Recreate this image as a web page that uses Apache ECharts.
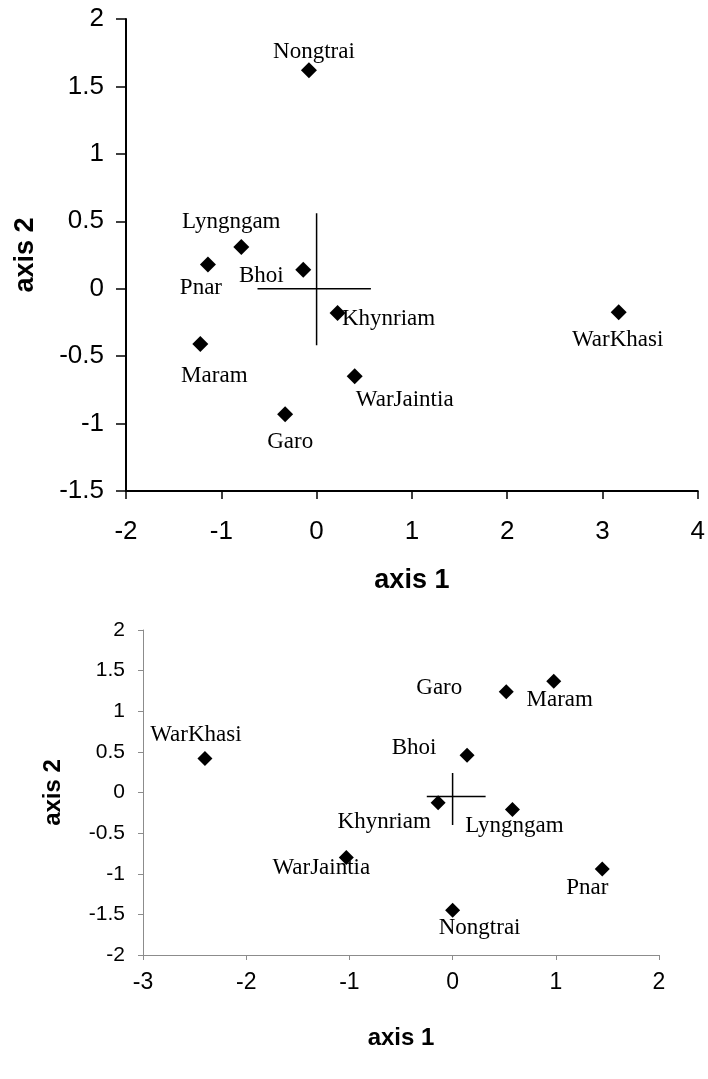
<!DOCTYPE html>
<html>
<head>
<meta charset="utf-8">
<script src="https://cdn.jsdelivr.net/npm/echarts@6/dist/echarts.min.js"></script>
<style>
  html, body { margin: 0; padding: 0; background: #fff; }
  #chart { width: 708px; height: 1079px; }
</style>
</head>
<body>
<div id="chart"></div>
<script>
// top panel
const topNames = ['Nongtrai', 'Lyngngam', 'Pnar', 'Bhoi', 'Khynriam', 'Maram', 'WarJaintia', 'Garo', 'WarKhasi']
const topX = [-0.08, -0.79, -1.14, -0.14, 0.22, -1.22, 0.40, -0.33, 3.17]
const topY = [1.62, 0.31, 0.18, 0.14, -0.18, -0.41, -0.65, -0.93, -0.175]
const topCrossX = [-0.62, 0.57]
const topCrossY = [-0.42, 0.56]

// bottom panel
const botNames = ['WarKhasi', 'WarJaintia', 'Khynriam', 'Garo', 'Maram', 'Bhoi', 'Lyngngam', 'Pnar', 'Nongtrai']
const botX = [-2.40, -1.03, -0.14, 0.52, 0.98, 0.14, 0.58, 1.45, 0.0]
const botY = [0.42, -0.80, -0.125, 1.24, 1.37, 0.46, -0.21, -0.94, -1.45]
const botCrossX = [-0.25, 0.32]
const botCrossLevel = -0.05
const botCrossY = [0.24, -0.40]

// label placement (pixels from marker centre)
const topLabelOffset = {
  Nongtrai: [5, -18], Lyngngam: [-10, -25], Pnar: [-7, 24], Bhoi: [-42, 6],
  Khynriam: [51, 6], Maram: [14, 32], WarJaintia: [50, 24], Garo: [5, 28], WarKhasi: [-1, 28]
}
const botLabelOffset = {
  WarKhasi: [-9, -23], WarJaintia: [-25, 10], Khynriam: [-54, 19], Garo: [-67, -4],
  Maram: [6, 19], Bhoi: [-53, -7], Lyngngam: [2, 16], Pnar: [-15, 19], Nongtrai: [27, 18]
}

const SANS = '"Liberation Sans", Arial, sans-serif'
const SERIF = '"Liberation Serif", "Times New Roman", serif'

function points(names, xs, ys, offsets) {
  return names.map((n, i) => ({
    name: n,
    value: [xs[i], ys[i]],
    label: { offset: offsets[n] },
  }))
}

function scatter(idx, names, xs, ys, offsets, size) {
  return {
    type: 'scatter',
    xAxisIndex: idx,
    yAxisIndex: idx,
    symbol: 'diamond',
    symbolSize: size,
    itemStyle: { color: '#000', opacity: 1 },
    label: {
      show: true,
      position: 'inside',
      formatter: '{b}',
      color: '#000',
      opacity: 1,
      fontFamily: SERIF,
      fontSize: 23,
    },
    emphasis: { disabled: true },
    data: points(names, xs, ys, offsets),
    z: 3,
  }
}

function segment(idx, pts) {
  return {
    type: 'line',
    xAxisIndex: idx,
    yAxisIndex: idx,
    symbol: 'none',
    lineStyle: { color: '#000', width: 1.5 },
    data: pts,
    z: 2,
  }
}

const chart = echarts.init(document.getElementById('chart'), null, { renderer: 'canvas' })

chart.setOption({
  animation: false,
  backgroundColor: '#fff',
  grid: [
    { left: 126, top: 19, width: 572, height: 472 },
    { left: 143, top: 630, width: 516, height: 325 },
  ],
  xAxis: [
    {
      gridIndex: 0, type: 'value', min: -2, max: 4, interval: 1,
      name: 'axis 1', nameLocation: 'middle', nameGap: 76,
      nameTextStyle: { fontFamily: SANS, fontWeight: 'bold', fontSize: 27, color: '#000' },
      axisLine: { onZero: false, lineStyle: { color: '#000', width: 2 } },
      axisTick: { show: true, length: 8, lineStyle: { color: '#000', width: 1.5 } },
      axisLabel: { fontFamily: SANS, fontSize: 26, color: '#000', margin: 28 },
      splitLine: { show: false },
    },
    {
      gridIndex: 1, type: 'value', min: -3, max: 2, interval: 1,
      name: 'axis 1', nameLocation: 'middle', nameGap: 71,
      nameTextStyle: { fontFamily: SANS, fontWeight: 'bold', fontSize: 24, color: '#000' },
      axisLine: { onZero: false, lineStyle: { color: '#8c8c8c', width: 1 } },
      axisTick: { show: true, length: 5, lineStyle: { color: '#8c8c8c', width: 1 } },
      axisLabel: { fontFamily: SANS, fontSize: 23, color: '#000', margin: 16 },
      splitLine: { show: false },
    },
  ],
  yAxis: [
    {
      gridIndex: 0, type: 'value', min: -1.5, max: 2, interval: 0.5,
      name: 'axis 2', nameLocation: 'middle', nameGap: 87,
      nameTextStyle: { fontFamily: SANS, fontWeight: 'bold', fontSize: 27, color: '#000' },
      axisLine: { onZero: false, lineStyle: { color: '#000', width: 2 } },
      axisTick: { show: true, length: 10, lineStyle: { color: '#000', width: 1.5 } },
      axisLabel: { fontFamily: SANS, fontSize: 26, color: '#000', margin: 22 },
      splitLine: { show: false },
    },
    {
      gridIndex: 1, type: 'value', min: -2, max: 2, interval: 0.5,
      name: 'axis 2', nameLocation: 'middle', nameGap: 78,
      nameTextStyle: { fontFamily: SANS, fontWeight: 'bold', fontSize: 24, color: '#000' },
      axisLine: { onZero: false, lineStyle: { color: '#8c8c8c', width: 1 } },
      axisTick: { show: true, length: 5, lineStyle: { color: '#8c8c8c', width: 1 } },
      axisLabel: { fontFamily: SANS, fontSize: 21, color: '#000', margin: 18 },
      splitLine: { show: false },
    },
  ],
  series: [
    segment(0, [[topCrossX[0], 0], [topCrossX[1], 0]]),
    segment(0, [[0, topCrossY[0]], [0, topCrossY[1]]]),
    scatter(0, topNames, topX, topY, topLabelOffset, 16),
    segment(1, [[botCrossX[0], botCrossLevel], [botCrossX[1], botCrossLevel]]),
    segment(1, [[0, botCrossY[0]], [0, botCrossY[1]]]),
    scatter(1, botNames, botX, botY, botLabelOffset, 15),
  ],
})
</script>
</body>
</html>
